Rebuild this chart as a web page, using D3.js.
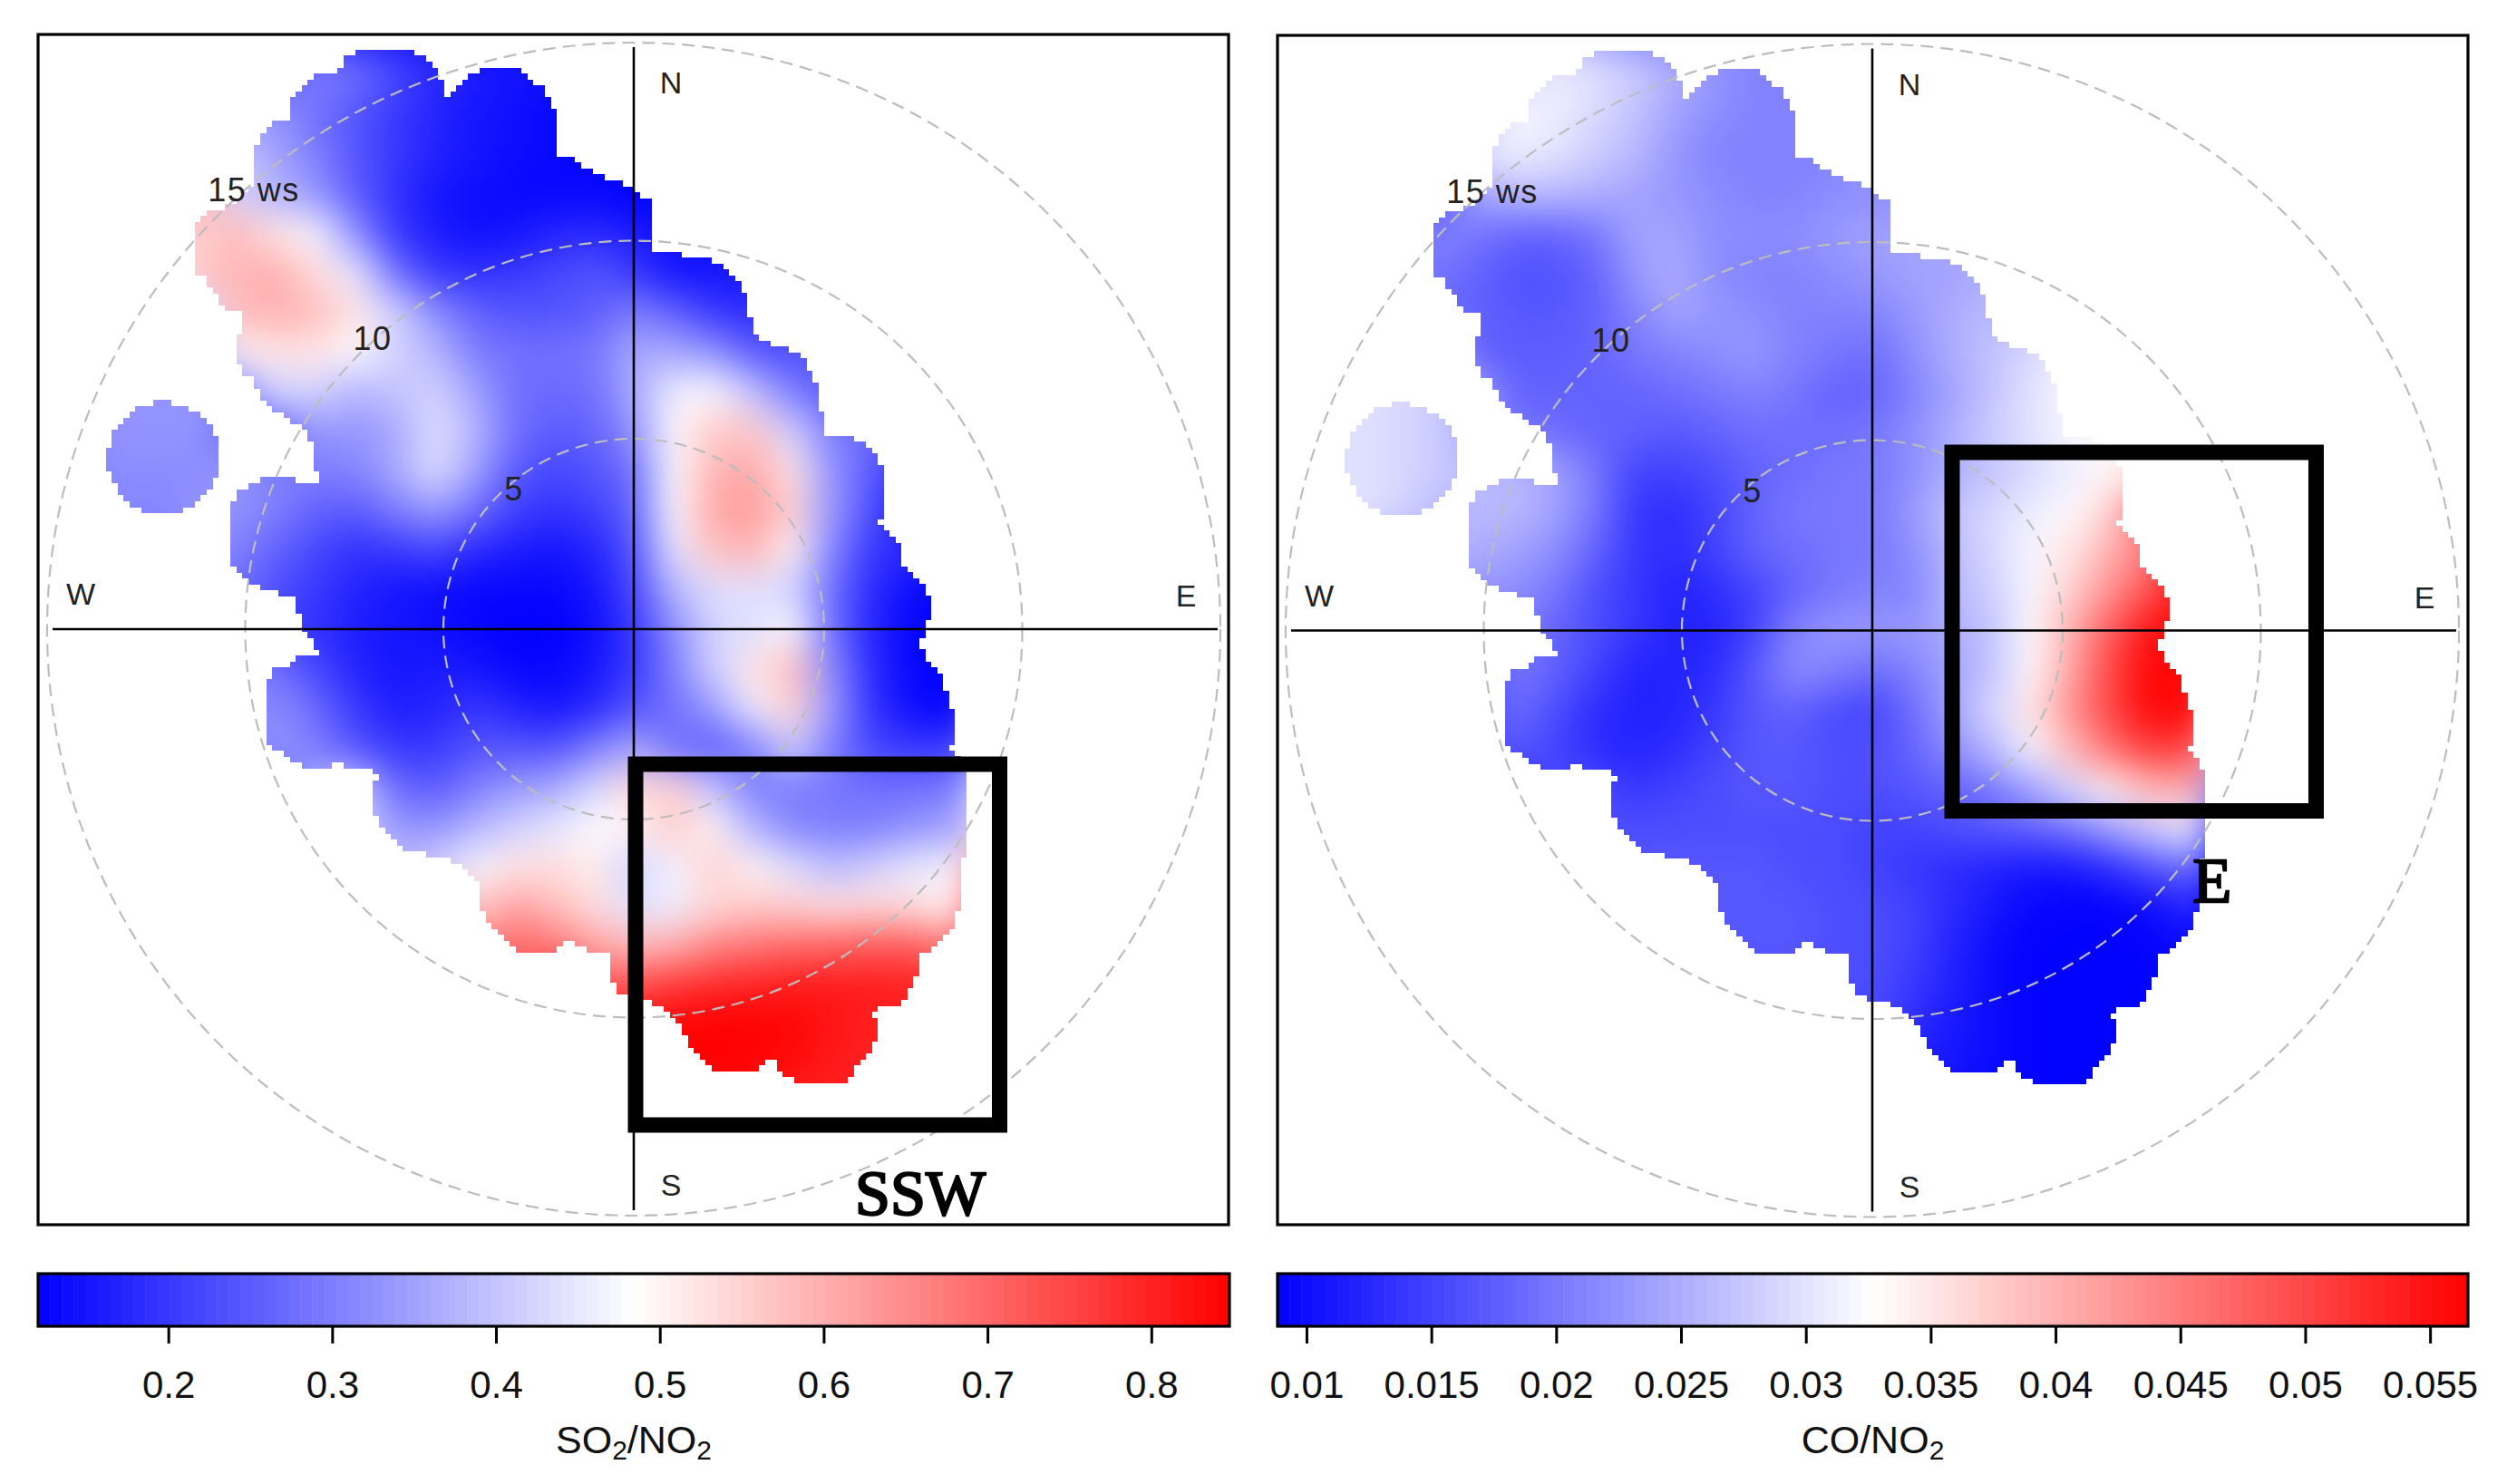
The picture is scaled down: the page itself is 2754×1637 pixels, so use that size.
<!DOCTYPE html>
<meta charset="utf-8">
<style>
body { margin: 0; background: white; font-family: "Liberation Sans", Arial, sans-serif; }
svg { display: block; }
.legend text { font-size: 42px; fill: #111; }
.legend line { stroke: black; stroke-width: 3; }
.legend .domain { display: none; }
</style>
<body>
<script src="https://cdn.jsdelivr.net/npm/d3@7"></script>
<script>

var n = null;

// grid axes of the two fields (plot units, about 1 wind speed unit per step)
var gridU = d3.range(-13, 9);
var gridV = d3.range(14, -12, -1);

var so2Rows = [
  [n,n,n,n,n,.30,.28,.22,.18,.16,.15,.14],
  [n,n,n,n,.33,.28,.24,.20,.17,.15,.14,.13],
  [n,n,n,.40,.35,.30,.24,.20,.17,.15,.14,.13,.13],
  [n,n,n,.42,.38,.33,.25,.19,.15,.14,.13,.13,.13,.12,.12],
  [n,n,.55,.58,.52,.47,.32,.20,.16,.14,.15,.17,.18,.16,.14,.13],
  [n,n,.56,.59,.60,.53,.45,.28,.20,.19,.20,.22,.24,.20,.15,.15,.15],
  [n,n,n,.58,.60,.58,.52,.42,.32,.26,.24,.24,.25,.30,.26,.20,.18],
  [n,n,n,.50,.52,.52,.48,.42,.38,.30,.28,.28,.29,.36,.36,.33,.25,.22],
  [.33,.33,.33,n,.43,.42,.38,.40,.42,.35,.28,.27,.28,.36,.46,.48,.40,.30,.24],
  [.33,.33,.33,n,n,.34,.33,.36,.44,.38,.28,.25,.26,.33,.49,.56,.56,.42,.30,.27],
  [.32,.32,.32,.33,.30,.30,.31,.36,.44,.35,.25,.22,.24,.28,.48,.59,.61,.52,.33,.25],
  [.31,.31,.33,.33,.30,.26,.25,.30,.34,.28,.21,.19,.21,.26,.48,.61,.63,.55,.34,.23],
  [n,n,.33,.30,.26,.22,.19,.20,.22,.18,.16,.15,.17,.24,.45,.57,.59,.50,.31,.20,.18],
  [n,n,n,.28,.23,.20,.17,.15,.14,.13,.13,.13,.15,.22,.38,.44,.44,.42,.28,.18,.14],
  [n,n,n,n,.21,.19,.16,.15,.14,.13,.12,.12,.14,.20,.32,.42,.44,.48,.28,.17,.13],
  [n,n,n,n,.28,.22,.17,.15,.16,.15,.13,.13,.15,.20,.30,.42,.52,.58,.32,.18,.13,.12],
  [n,n,n,n,.32,.27,.20,.16,.17,.20,.17,.15,.18,.24,.28,.34,.46,.55,.34,.19,.14,.12],
  [n,n,n,n,.33,.30,.24,.20,.20,.24,.24,.24,.30,.36,.28,.25,.30,.42,.30,.22,.20,.20],
  [n,n,n,n,n,n,n,.27,.25,.30,.34,.36,.43,.54,.55,.40,.30,.30,.29,.28,.28,.29],
  [n,n,n,n,n,n,n,.34,.33,.38,.42,.45,.48,.50,.56,.50,.38,.31,.30,.30,.33,.35],
  [n,n,n,n,n,n,n,.38,.42,.47,.52,.53,.51,.42,.47,.55,.50,.44,.39,.42,.45,.47],
  [n,n,n,n,n,n,n,n,n,.55,.62,.58,.53,.44,.46,.54,.56,.55,.53,.54,.53,.50],
  [n,n,n,n,n,n,n,n,n,n,.70,.68,.62,.58,.60,.66,.68,.70,.71,.72,.72,.68],
  [n,n,n,n,n,n,n,n,n,n,n,n,.72,.74,.77,.79,.80,.81,.81,.81,.80],
  [n,n,n,n,n,n,n,n,n,n,n,n,n,.82,.84,.85,.85,.84,.82,.80,.80],
  [n,n,n,n,n,n,n,n,n,n,n,n,n,n,.85,.85,.84,.83,.81,.80]
];

var coRows = [
  [n,n,n,n,n,.031,.030,.028,.025,.023,.021,.021],
  [n,n,n,n,.032,.031,.029,.027,.024,.022,.021,.021],
  [n,n,n,.030,.031,.030,.028,.026,.023,.021,.021,.021,.021],
  [n,n,n,.024,.026,.026,.025,.024,.023,.022,.021,.021,.022,.022,.022],
  [n,n,.021,.020,.018,.018,.020,.024,.024,.022,.022,.022,.023,.024,.024,.024],
  [n,n,.020,.018,.0165,.0165,.018,.023,.025,.022,.021,.021,.022,.023,.024,.024,.025],
  [n,n,n,.018,.017,.017,.018,.021,.024,.023,.022,.021,.021,.021,.023,.025,.026,.026],
  [n,n,n,.018,.0175,.0175,.018,.020,.021,.022,.023,.021,.020,.019,.022,.025,.027,.029],
  [.030,.029,.028,n,.018,.018,.018,.018,.019,.020,.021,.020,.018,.018,.021,.024,.027,.030,.032],
  [.030,.029,.028,n,n,.019,.018,.018,.017,.018,.019,.019,.019,.020,.022,.025,.028,.030,.032,.034],
  [.030,.029,.028,.026,.026,.024,.020,.015,.015,.016,.018,.019,.020,.020,.022,.025,.027,.029,.031,.033,.036],
  [.030,.029,.026,.026,.026,.024,.020,.014,.013,.015,.018,.020,.020,.020,.023,.027,.029,.031,.033,.037],
  [n,n,.026,.025,.024,.022,.018,.014,.013,.015,.018,.019,.020,.020,.022,.026,.029,.032,.035,.040,.045],
  [n,n,n,.023,.022,.020,.016,.014,.012,.013,.015,.018,.020,.021,.021,.026,.028,.032,.037,.043,.049],
  [n,n,n,n,.021,.018,.016,.014,.012,.012,.015,.021,.023,.023,.023,.025,.027,.033,.040,.048,.055],
  [n,n,n,n,.020,.018,.015,.012,.012,.013,.017,.022,.021,.019,.021,.024,.027,.033,.041,.050,.056,.056],
  [n,n,n,n,.019,.016,.013,.012,.012,.014,.017,.018,.016,.015,.019,.024,.029,.035,.043,.050,.056,.056],
  [n,n,n,n,.017,.015,.013,.012,.013,.015,.017,.017,.016,.016,.018,.022,.026,.032,.039,.046,.051,.050],
  [n,n,n,n,n,n,n,.014,.015,.016,.017,.017,.016,.016,.017,.018,.020,.024,.029,.034,.039,.040],
  [n,n,n,n,n,n,n,.016,.016,.016,.016,.016,.016,.015,.015,.016,.017,.018,.020,.024,.028,.031],
  [n,n,n,n,n,n,n,n,n,.017,.017,.016,.016,.015,.014,.013,.012,.011,.011,.013,.016,.019],
  [n,n,n,n,n,n,n,n,n,.017,.017,.017,.016,.016,.015,.013,.011,.0095,.009,.009,.010,.012],
  [n,n,n,n,n,n,n,n,n,n,.017,.017,.016,.016,.015,.012,.010,.009,.009,.009,.009,.010],
  [n,n,n,n,n,n,n,n,n,n,n,n,.016,.016,.014,.012,.010,.009,.009,.009,.009],
  [n,n,n,n,n,n,n,n,n,n,n,n,n,.016,.013,.011,.010,.009,.009,.009,.009],
  [n,n,n,n,n,n,n,n,n,n,n,n,n,n,.012,.011,.010,.009,.009,.009]
];

// edge of the area with data, same winds in both panels (u east, v north)
var coverage = [
  [-6.72,14.7],[-5.65,14.7],[-5.08,14.24],[-4.78,13.84],[-4.76,13.41],[-4.63,13.41],[-4.48,13.69],[-3.94,14.11],
  [-2.92,14.11],[-2.3,13.69],[-1.98,13.1],[-1.98,12.1],[-2.15,12.08],[-1.61,11.9],[-1.01,11.5],[-.42,11.31],
  [0,11.11],[.2,10.96],[.53,10.76],[.53,9.47],[1.82,9.44],[2.41,9.03],[2.86,8.43],[3,7.54],[3.25,7.26],[3.85,7.09],
  [4.2,6.89],[4.54,6.4],[4.72,5.56],[4.87,4.93],[5.49,4.91],[6.03,4.46],[6.35,3.97],[6.35,2.83],[6.2,2.83],[6.2,2.6],
  [6.68,2.18],[6.75,1.64],[7.22,1.29],[7.37,.79],[7.52,.79],[7.52,.3],[7.37,.25],[7.37,0],[7.22,-.38],[7.37,-.82],
  [7.67,-.92],[7.82,-1.47],[8.05,-1.98],[8.05,-2.86],[7.9,-2.86],[8.2,-3.2],[8.37,-3.65],[8.37,-5.63],[8.23,-6.13],
  [8.21,-6.97],[8.07,-7.52],[7.82,-7.87],[7.22,-8.21],[7.17,-8.66],[6.9,-9.3],[6.73,-9.45],[6.18,-9.55],[6.03,-9.75],
  [6.18,-10],[6.03,-10.65],[5.73,-10.89],[5.5,-11.29],[5.19,-11.49],[4.18,-11.49],[3.7,-11.19],[3.5,-10.87],
  [3.4,-10.87],[3.11,-11.14],[2.06,-11.17],[1.37,-10.55],[1.17,-10],[.97,-9.75],[.53,-9.45],[-.12,-9.31],[-.47,-9.06],
  [-.66,-8.21],[-1.16,-8.11],[-1.61,-7.82],[-1.76,-7.84],[-2,-8.13],[-2.9,-8.13],[-3.59,-7.52],[-3.94,-6.93],
  [-3.94,-6.33],[-4.43,-5.93],[-4.93,-5.73],[-5.63,-5.63],[-6.12,-5.34],[-6.42,-4.84],[-6.57,-4.54],[-6.57,-3.85],
  [-6.42,-3.85],[-6.57,-3.55],[-6.96,-3.55],[-7.41,-3.4],[-8.15,-3.53],[-8.6,-3.37],[-8.95,-3.1],[-9.23,-2.81],
  [-9.3,-2.26],[-9.25,-1.37],[-9.05,-1.02],[-8.55,-.82],[-8.45,-.65],[-7.98,-.65],[-8.13,-.23],[-8.3,-.03],[-8.43,.3],
  [-8.6,.84],[-9.35,.99],[-9.84,1.34],[-10.22,1.69],[-10.22,2.93],[-10.04,3.47],[-9.44,3.77],[-8.85,3.92],[-8.55,3.77],
  [-7.76,3.62],[-7.96,3.77],[-8.15,4.66],[-8.35,5.11],[-8.75,5.31],[-9.3,5.75],[-9.59,6.3],[-9.92,6.5],[-10.07,7.09],
  [-9.92,7.54],[-9.8,7.94],[-10.34,8.13],[-10.79,8.83],[-11.08,8.98],[-11.08,10.12],[-10.93,10.47],[-10.14,10.71],
  [-9.59,11.21],[-9.59,11.9],[-9.44,12.4],[-9.3,12.6],[-9.05,12.8],[-8.75,12.8],[-8.57,13.49],[-8.15,13.94],
  [-7.31,14.14],[-7.26,14.44]
];
var coverageSpot = [-11.87, 4.32, 1.41];

var rings = [5, 10, 15];
var ringLabels = ["5", "10", "15 ws"];
var compass = ["N", "E", "S", "W"];

var so2Ticks = [0.2, 0.3, 0.4, 0.5, 0.6, 0.7, 0.8];
var coTicks = [0.01, 0.015, 0.02, 0.025, 0.03, 0.035, 0.04, 0.045, 0.05, 0.055];
var so2Range = [0.1205, 0.8477];
var coRange = [0.00884, 0.05652];

var width = 2754,
    height = 1637;

var svg = d3.select("body").append("svg")
    .attr("width", width)
    .attr("height", height);

var defs = svg.append("defs");

function colorFor(range) {
  return d3.scaleLinear()
    .domain([range[0], (range[0] + range[1]) / 2, range[1]])
    .range(["#0000ff", "#ffffff", "#ff0000"]);
}

var radius = d3.scaleLinear().domain([5, 15]).range([210, 647]);

function drawPanel(id, box, cx, cy, rows, range) {
  var x = d3.scaleLinear().domain([0, 1]).range([cx, cx + 43.7]),
      y = d3.scaleLinear().domain([0, 1]).range([cy, cy - 43.7]),
      color = colorFor(range),
      cell = 43.7,
      block = 6.55;

  var mask = defs.append("mask")
      .attr("id", "cover" + id)
      .attr("maskUnits", "userSpaceOnUse")
      .attr("x", 0).attr("y", 0).attr("width", width).attr("height", height);

  // the coverage edge goes through coarse pixels, like the raster of the original plot
  var outline = coverage.map(function(d) { return [x(d[0]), y(d[1])]; }),
      spotX = x(coverageSpot[0]),
      spotY = y(coverageSpot[1]),
      spotR = coverageSpot[2] * cell;

  function inside(px, py) {
    return d3.polygonContains(outline, [px, py]) ||
      Math.hypot(px - spotX, py - spotY) <= spotR;
  }

  var runs = [];
  d3.range(cy - 15 * cell, cy + 12 * cell, block).forEach(function(py) {
    var start = null, last = null;
    d3.range(cx - 14 * cell, cx + 9 * cell, block).forEach(function(px) {
      if (inside(px, py)) {
        if (start === null) start = px;
        last = px;
      } else if (start !== null) {
        runs.push([start, py, last - start + block]);
        start = null;
      }
    });
  });

  mask.selectAll("rect")
    .data(runs)
    .enter().append("rect")
      .attr("x", function(d) { return d[0] - block / 2; })
      .attr("y", function(d) { return d[1] - block / 2; })
      .attr("width", function(d) { return d[2]; })
      .attr("height", block + 0.3)
      .attr("fill", "white")
      .attr("shape-rendering", "crispEdges");

  defs.append("filter")
      .attr("id", "soft" + id)
      .attr("filterUnits", "userSpaceOnUse")
      .attr("x", 0).attr("y", 0).attr("width", width).attr("height", height)
      .attr("color-interpolation-filters", "sRGB")
    .append("feGaussianBlur")
      .attr("stdDeviation", 21);

  var cells = [];
  rows.forEach(function(row, j) {
    row.forEach(function(value, i) {
      if (value !== null) cells.push({u: gridU[i], v: gridV[j], value: value});
    });
  });

  var field = svg.append("g")
      .attr("mask", "url(#cover" + id + ")")
    .append("g")
      .attr("filter", "url(#soft" + id + ")");

  // wider copies underneath so the blur does not fade out at the edge of the grid
  field.selectAll(".under")
    .data(cells)
    .enter().append("rect")
      .attr("class", "under")
      .attr("x", function(d) { return x(d.u) - 2.5 * cell; })
      .attr("y", function(d) { return y(d.v) - 2.5 * cell; })
      .attr("width", 5 * cell)
      .attr("height", 5 * cell)
      .attr("fill", function(d) { return color(d.value); });

  field.selectAll(".cell")
    .data(cells)
    .enter().append("rect")
      .attr("class", "cell")
      .attr("x", function(d) { return x(d.u) - cell / 2; })
      .attr("y", function(d) { return y(d.v) - cell / 2; })
      .attr("width", cell + 0.5)
      .attr("height", cell + 0.5)
      .attr("fill", function(d) { return color(d.value); });

  var plot = svg.append("g");

  plot.selectAll(".ring")
    .data(rings)
    .enter().append("circle")
      .attr("class", "ring")
      .attr("cx", cx)
      .attr("cy", cy)
      .attr("r", function(d) { return radius(d); })
      .attr("fill", "none")
      .attr("stroke", "#bdbdbd")
      .attr("stroke-width", 2.2)
      .attr("stroke-dasharray", "14 8");

  plot.append("line")
      .attr("x1", cx - 641).attr("x2", cx + 644).attr("y1", cy).attr("y2", cy)
      .attr("stroke", "black").attr("stroke-width", 2.6);
  plot.append("line")
      .attr("x1", cx).attr("x2", cx).attr("y1", cy - 642).attr("y2", cy + 641)
      .attr("stroke", "black").attr("stroke-width", 2.6);

  var compassSpots = {N: [41, -591], E: [609, -25], S: [41, 625], W: [-610, -27]};
  plot.selectAll(".compass")
    .data(compass)
    .enter().append("text")
      .attr("class", "compass")
      .attr("x", function(d) { return cx + compassSpots[d][0]; })
      .attr("y", function(d) { return cy + compassSpots[d][1]; })
      .attr("text-anchor", "middle")
      .style("font-size", "34px")
      .style("fill", "#222")
      .text(function(d) { return d; });

  var ringSpots = [[-132, -142], [-288, -308], [-419, -472]];
  plot.selectAll(".ringlabel")
    .data(ringLabels)
    .enter().append("text")
      .attr("class", "ringlabel")
      .attr("x", function(d, i) { return cx + ringSpots[i][0]; })
      .attr("y", function(d, i) { return cy + ringSpots[i][1]; })
      .attr("text-anchor", "middle")
      .style("font-size", "36px")
      .style("letter-spacing", "1.5px")
      .style("fill", "#222")
      .text(function(d) { return d; });

  svg.append("rect")
      .attr("x", box[0]).attr("y", box[1]).attr("width", box[2]).attr("height", box[3])
      .attr("fill", "none").attr("stroke", "black").attr("stroke-width", 3.2);
}

function drawLegend(left, right, range, ticks, first, rest) {
  var scale = d3.scaleLinear().domain(range).range([left, right]),
      color = colorFor(range),
      steps = d3.range(0, 100).map(function(i) { return range[0] + (range[1] - range[0]) * (i + 0.5) / 100; }),
      stepWidth = (right - left) / 100;

  var legend = svg.append("g").attr("class", "legend");

  legend.selectAll(".step")
    .data(steps)
    .enter().append("rect")
      .attr("class", "step")
      .attr("x", function(d) { return scale(d) - stepWidth / 2; })
      .attr("y", 1405)
      .attr("width", stepWidth + 0.5)
      .attr("height", 58)
      .attr("fill", function(d) { return color(d); });

  legend.append("rect")
      .attr("x", left).attr("y", 1405).attr("width", right - left).attr("height", 58)
      .attr("fill", "none").attr("stroke", "black").attr("stroke-width", 3.2);

  legend.append("g")
      .attr("transform", "translate(0,1464)")
      .call(d3.axisBottom(scale).tickValues(ticks).tickSize(18).tickPadding(30).tickFormat(d3.format("")));

  var label = legend.append("text")
      .attr("x", (left + right) / 2)
      .attr("y", 1603)
      .attr("text-anchor", "middle")
      .style("font-size", "43px");
  label.append("tspan").text(first);
  if (rest === "SO") {
    label.append("tspan").attr("dy", 7).style("font-size", "30px").text("2");
    label.append("tspan").attr("dy", -7).text("/NO");
  } else {
    label.append("tspan").text("/NO");
  }
  label.append("tspan").attr("dy", 7).style("font-size", "30px").text("2");
}

function drawBox(x0, y0, x1, y1) {
  svg.append("rect")
      .attr("x", x0).attr("y", y0).attr("width", x1 - x0).attr("height", y1 - y0)
      .attr("fill", "none").attr("stroke", "black").attr("stroke-width", 17);
}

function drawTag(text, x, y) {
  svg.append("text")
      .attr("x", x).attr("y", y)
      .attr("text-anchor", "middle")
      .style("font-family", "'Liberation Serif', serif")
      .style("font-size", "70px")
      .style("stroke", "black")
      .style("stroke-width", 2.4)
      .text(text);
}

drawPanel("a", [42, 38, 1313, 1313], 699, 694, so2Rows, so2Range);
drawPanel("b", [1409, 39, 1313, 1312], 2065, 695.5, coRows, coRange);

drawBox(701, 843, 1102.5, 1241);
drawBox(2153, 499, 2554.5, 894.5);

drawTag("SSW", 1015, 1340);
drawTag("E", 2440, 995);

drawLegend(42, 1356, so2Range, so2Ticks, "SO", "SO");
drawLegend(1409, 2722, coRange, coTicks, "CO", "CO");

</script>
